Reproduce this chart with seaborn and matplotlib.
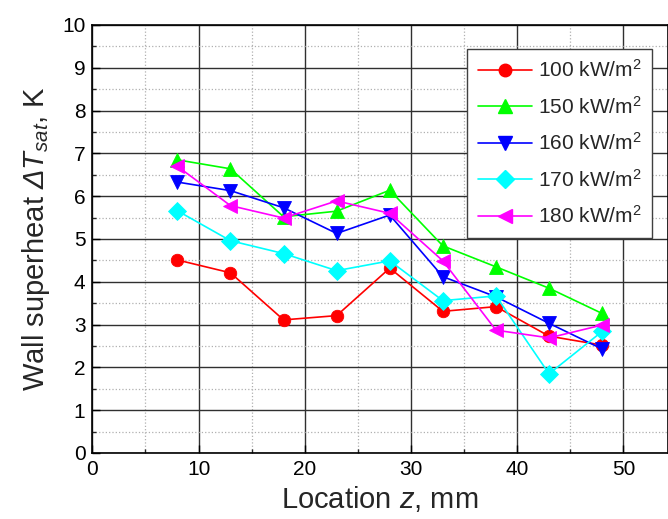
import numpy as np
import pandas as pd
import matplotlib
matplotlib.use("Agg")
import matplotlib.pyplot as plt
import seaborn as sns
from matplotlib.ticker import MultipleLocator

# ---- data ----
z_mm = [8, 13, 18, 23, 28, 33, 38, 43, 48]
q100 = [4.51, 4.21, 3.11, 3.21, 4.32, 3.31, 3.42, 2.73, 2.52]
q150 = [6.85, 6.64, 5.52, 5.65, 6.14, 4.84, 4.35, 3.85, 3.26]
q160 = [6.33, 6.13, 5.73, 5.13, 5.56, 4.12, 3.65, 3.03, 2.43]
q170 = [5.66, 4.96, 4.66, 4.26, 4.49, 3.56, 3.67, 1.85, 2.84]
q180 = [6.70, 5.78, 5.49, 5.89, 5.60, 4.49, 2.87, 2.69, 2.99]
labels = ["100 kW/m$^2$", "150 kW/m$^2$", "160 kW/m$^2$", "170 kW/m$^2$", "180 kW/m$^2$"]
series = [q100, q150, q160, q170, q180]
colors = ["#ff0000", "#00ff00", "#0000ff", "#00ffff", "#ff00ff"]
markers = ["o", "^", "v", "D", "<"]
msizes = [9, 10.5, 10.5, 9, 10.5]

rows = []
for lab, vals in zip(labels, series):
    for z, v in zip(z_mm, vals):
        rows.append({"z": z, "dT": v, "q": lab})
df = pd.DataFrame(rows)

sns.set_style("white")
plt.rcParams["font.family"] = ["Liberation Sans", "DejaVu Sans"]
plt.rcParams["mathtext.fontset"] = "custom"
plt.rcParams["mathtext.rm"] = "Liberation Sans"
plt.rcParams["mathtext.it"] = "Liberation Sans:italic"
plt.rcParams["mathtext.sf"] = "Liberation Sans:italic"

fig = plt.figure(figsize=(6.68, 5.19), dpi=100)
ax = fig.add_axes([92.4 / 668, 66 / 519, (668 - 92.4) / 668, 428 / 519])

sns.lineplot(data=df, x="z", y="dT", hue="q", style="q",
             palette=dict(zip(labels, colors)),
             markers=dict(zip(labels, markers)),
             dashes=False, hue_order=labels, style_order=labels,
             markersize=9, linewidth=1.2, markeredgewidth=0.6,
             ax=ax, zorder=3, legend=False)
for line, c, ms in zip(ax.lines, colors, msizes):
    line.set_markeredgecolor(c)
    line.set_markersize(ms)
    line.set_label(None)

ax.set_xlim(0, 54.2)
ax.set_ylim(0, 10)
ax.xaxis.set_major_locator(MultipleLocator(10))
ax.xaxis.set_minor_locator(MultipleLocator(5))
ax.yaxis.set_major_locator(MultipleLocator(1))
ax.yaxis.set_minor_locator(MultipleLocator(0.5))
ax.grid(which="major", color="#303030", linewidth=1.0, linestyle="-", zorder=0)
ax.grid(which="minor", color="#b0b0b0", linewidth=0.9, linestyle=":", zorder=0)
ax.set_axisbelow(True)

ax.tick_params(which="major", direction="in", length=6, width=1.0, labelsize=15,
               colors="black", left=True, bottom=True, pad=5)
ax.tick_params(which="minor", direction="in", length=3, width=1.0, left=True, bottom=True)
for s in ax.spines.values():
    s.set_color("black")
    s.set_linewidth(1.2)

ax.set_xlabel("Location $z$, mm", fontsize=21, labelpad=4)
ax.set_ylabel("Wall superheat $\\mathsf{\\Delta}\\mathit{T}_{\\mathit{sat}}$, K",
              fontsize=21, labelpad=7)

handles = [plt.Line2D([], [], color=c, marker=m, markersize=ms, markeredgecolor=c,
                      linewidth=1.2) for c, m, ms in zip(colors, markers, msizes)]
leg = ax.legend(handles, labels, loc="upper right", bbox_to_anchor=(0.972, 0.944),
                borderaxespad=0, fontsize=15, frameon=True, fancybox=False,
                edgecolor="#404040", framealpha=1, handlelength=2.6,
                labelspacing=0.7, borderpad=0.5, handletextpad=0.3)
leg.get_frame().set_linewidth(1.0)

fig.savefig("out.png", dpi=100)
